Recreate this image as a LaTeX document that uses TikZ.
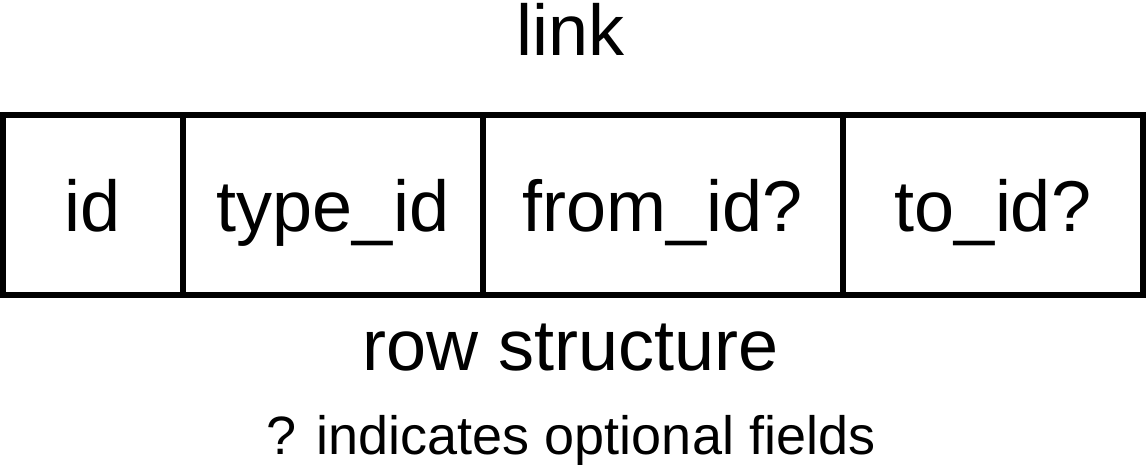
\documentclass[tikz,border=0pt]{standalone}
\usepackage{fontspec}
\setmainfont{Liberation Sans}
\usetikzlibrary{positioning}

\begin{document}
\begin{tikzpicture}[
    x=0.5pt, y=-0.5pt,
    node distance=0pt,
    field/.style={rectangle, draw, line width=2.75pt, outer sep=0pt, minimum height=90pt, inner sep=0pt, font=\fontsize{36pt}{40pt}\selectfont, text height=26pt, text depth=0pt},
    caption/.style={anchor=base, inner sep=0pt, font=\fontsize{36pt}{40pt}\selectfont},
    note/.style={anchor=base, inner sep=0pt, font=\fontsize{27pt}{30pt}\selectfont}
]
    \useasboundingbox (0,0) rectangle (1146,465);

    % fields of one row
    \node[field, minimum width=90pt, anchor=north west] (id) at (3,115) {id};
    \node[field, minimum width=150pt, right=of id] (typeid) {type\_id};
    \node[field, minimum width=180pt, right=of typeid] (fromid) {from\_id?};
    \node[field, minimum width=150pt, right=of fromid] (toid) {to\_id?};

    % titles
    \node[caption] (title) at (571,56) {link};
    \node[caption] (rowlabel) at (571,370) {row structure};
    \node[note] (legend) at (571,454) {? indicates optional fields};
\end{tikzpicture}
\end{document}
